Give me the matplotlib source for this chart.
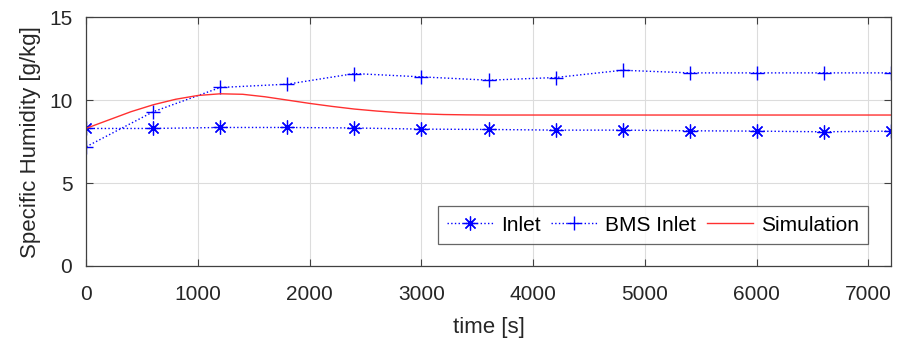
import matplotlib.pyplot as plt

plt.rcParams['font.family'] = ['Liberation Sans', 'DejaVu Sans']

# Measured samples (every 600 s)
t_meas = [0, 600, 1200, 1800, 2400, 3000, 3600, 4200, 4800, 5400, 6000, 6600, 7200]
inlet = [8.29, 8.29, 8.35, 8.35, 8.32, 8.25, 8.23, 8.19, 8.19, 8.15, 8.13, 8.09, 8.13]
bms_inlet = [7.19, 9.3, 10.76, 10.96, 11.6, 11.4, 11.2, 11.36, 11.8, 11.64, 11.64, 11.64, 11.64]

# Simulation curve
t_sim = [0, 200, 400, 600, 800, 1000, 1200, 1400, 1600, 1800, 2000, 2200, 2400,
         2600, 2800, 3000, 3200, 3400, 3600, 4000, 5000, 6000, 7200]
sim = [8.3, 8.8, 9.3, 9.72, 10.05, 10.28, 10.38, 10.35, 10.2, 10.0, 9.8, 9.62, 9.46,
       9.34, 9.24, 9.17, 9.13, 9.11, 9.1, 9.1, 9.1, 9.1, 9.1]

fig, ax = plt.subplots(figsize=(9.08, 3.43), dpi=100)
fig.subplots_adjust(left=0.095, right=0.981, top=0.950, bottom=0.2245)

blue = '#0000ff'
# MATLAB-style asterisk: 8 arms
ax.plot(t_meas, inlet, linestyle=':', color=blue, linewidth=1.0,
        marker=(8, 2, 0), markersize=10, markeredgewidth=0.9, label='Inlet')
ax.plot(t_meas, bms_inlet, linestyle=':', color=blue, linewidth=1.0,
        marker='+', markersize=10.5, markeredgewidth=1.0, label='BMS Inlet')
ax.plot(t_sim, sim, color='#ff3030', linewidth=1.0, label='Simulation')

ax.set_xlim(0, 7200)
ax.set_ylim(0, 15)
ax.set_xticks(range(0, 7001, 1000))
ax.set_yticks([0, 5, 10, 15])
ax.grid(True, color='#dcdcdc', linewidth=0.8)
ax.set_axisbelow(True)

for s in ax.spines.values():
    s.set_color('#404040')
    s.set_linewidth(0.9)
ax.tick_params(direction='in', top=True, right=True, length=5, width=0.8,
               colors='#404040', labelsize=15, labelcolor='#262626')
ax.tick_params(axis='x', pad=14)
ax.tick_params(axis='y', pad=10)

ax.set_xlabel('time [s]', fontsize=16, color='#262626', labelpad=9)
ax.set_ylabel('Specific Humidity [g/kg]', fontsize=16, color='#262626', labelpad=6)

leg = ax.legend(loc='lower right', ncol=3, fontsize=15, frameon=True,
                fancybox=False, edgecolor='#404040', borderpad=0.45,
                handlelength=2.2, handletextpad=0.4, columnspacing=0.5,
                borderaxespad=0, bbox_to_anchor=(0.972, 0.088))
leg.get_frame().set_linewidth(0.9)

fig.savefig('out.png', dpi=100)
